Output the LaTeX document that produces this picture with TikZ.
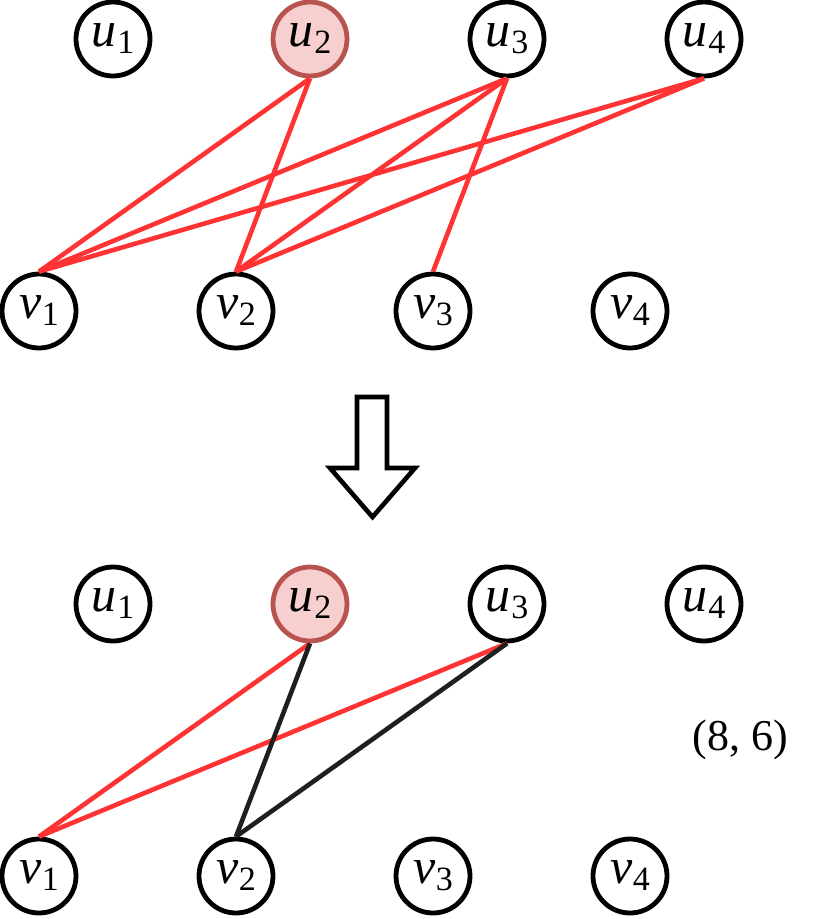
\documentclass[tikz,border=0pt]{standalone}
\usepackage{fontspec}
\setmainfont{Liberation Serif}
\usepackage{tikz}
\usetikzlibrary{positioning}
\definecolor{edgered}{HTML}{FF3333}
\definecolor{hotfill}{HTML}{F6CFCE}
\definecolor{hotline}{HTML}{B85450}
\newcommand{\lab}[2]{\textit{#1}\kern0.5pt\raisebox{-7pt}{\fontsize{34}{34}\selectfont #2}}
\tikzset{vert/.style={circle,draw,line width=4.8pt,minimum size=74pt,inner sep=0pt,font=\fontsize{50}{50}\selectfont},
  hot/.style={vert,draw=hotline,fill=hotfill},
  redge/.style={draw=edgered,line width=4.6pt},
  bedge/.style={draw=black!88,line width=4.6pt},
  node distance=197pt}

\begin{document}
\begin{tikzpicture}
    \useasboundingbox (0,0) rectangle (830pt,-919pt);
    % before
    \node[vert] (u1) at (113pt,-39pt) {\lab{u}{1}};
    \node[hot] (u2) [right of=u1] {\lab{u}{2}};
    \node[vert] (u3) [right of=u2] {\lab{u}{3}};
    \node[vert] (u4) [right of=u3] {\lab{u}{4}};
    \node[vert] (v1) at (39pt,-311pt) {\lab{v}{1}};
    \node[vert] (v2) [right of=v1] {\lab{v}{2}};
    \node[vert] (v3) [right of=v2] {\lab{v}{3}};
    \node[vert] (v4) [right of=v3] {\lab{v}{4}};
    \path[redge]
    (u2.south) edge (v1.north)
    (u2.south) edge (v2.north)
    (u3.south) edge (v1.north)
    (u3.south) edge (v2.north)
    (u3.south) edge (v3.north)
    (u4.south) edge (v1.north)
    (u4.south) edge (v2.north)
    ;
    % arrow
    \draw[line width=4.6pt,line join=miter] (357pt,-397pt) -- (387pt,-397pt) -- (387pt,-468pt) -- (415pt,-468pt)
      -- (372.5pt,-517pt) -- (330pt,-468pt) -- (357pt,-468pt) -- cycle;
    % after
    \node[vert] (a1) at (113pt,-604pt) {\lab{u}{1}};
    \node[hot] (a2) [right of=a1] {\lab{u}{2}};
    \node[vert] (a3) [right of=a2] {\lab{u}{3}};
    \node[vert] (a4) [right of=a3] {\lab{u}{4}};
    \node[vert] (b1) at (39pt,-876pt) {\lab{v}{1}};
    \node[vert] (b2) [right of=b1] {\lab{v}{2}};
    \node[vert] (b3) [right of=b2] {\lab{v}{3}};
    \node[vert] (b4) [right of=b3] {\lab{v}{4}};
    \path
    (a2.south) edge[redge] (b1.north)
    (a3.south) edge[redge] (b1.north)
    (a2.south) edge[bedge] (b2.north)
    (a3.south) edge[bedge] (b2.north)
    ;
    \node[font=\fontsize{44}{44}\selectfont] (cnt) at (740pt,-740pt) {(8, 6)};
\end{tikzpicture}
\end{document}
